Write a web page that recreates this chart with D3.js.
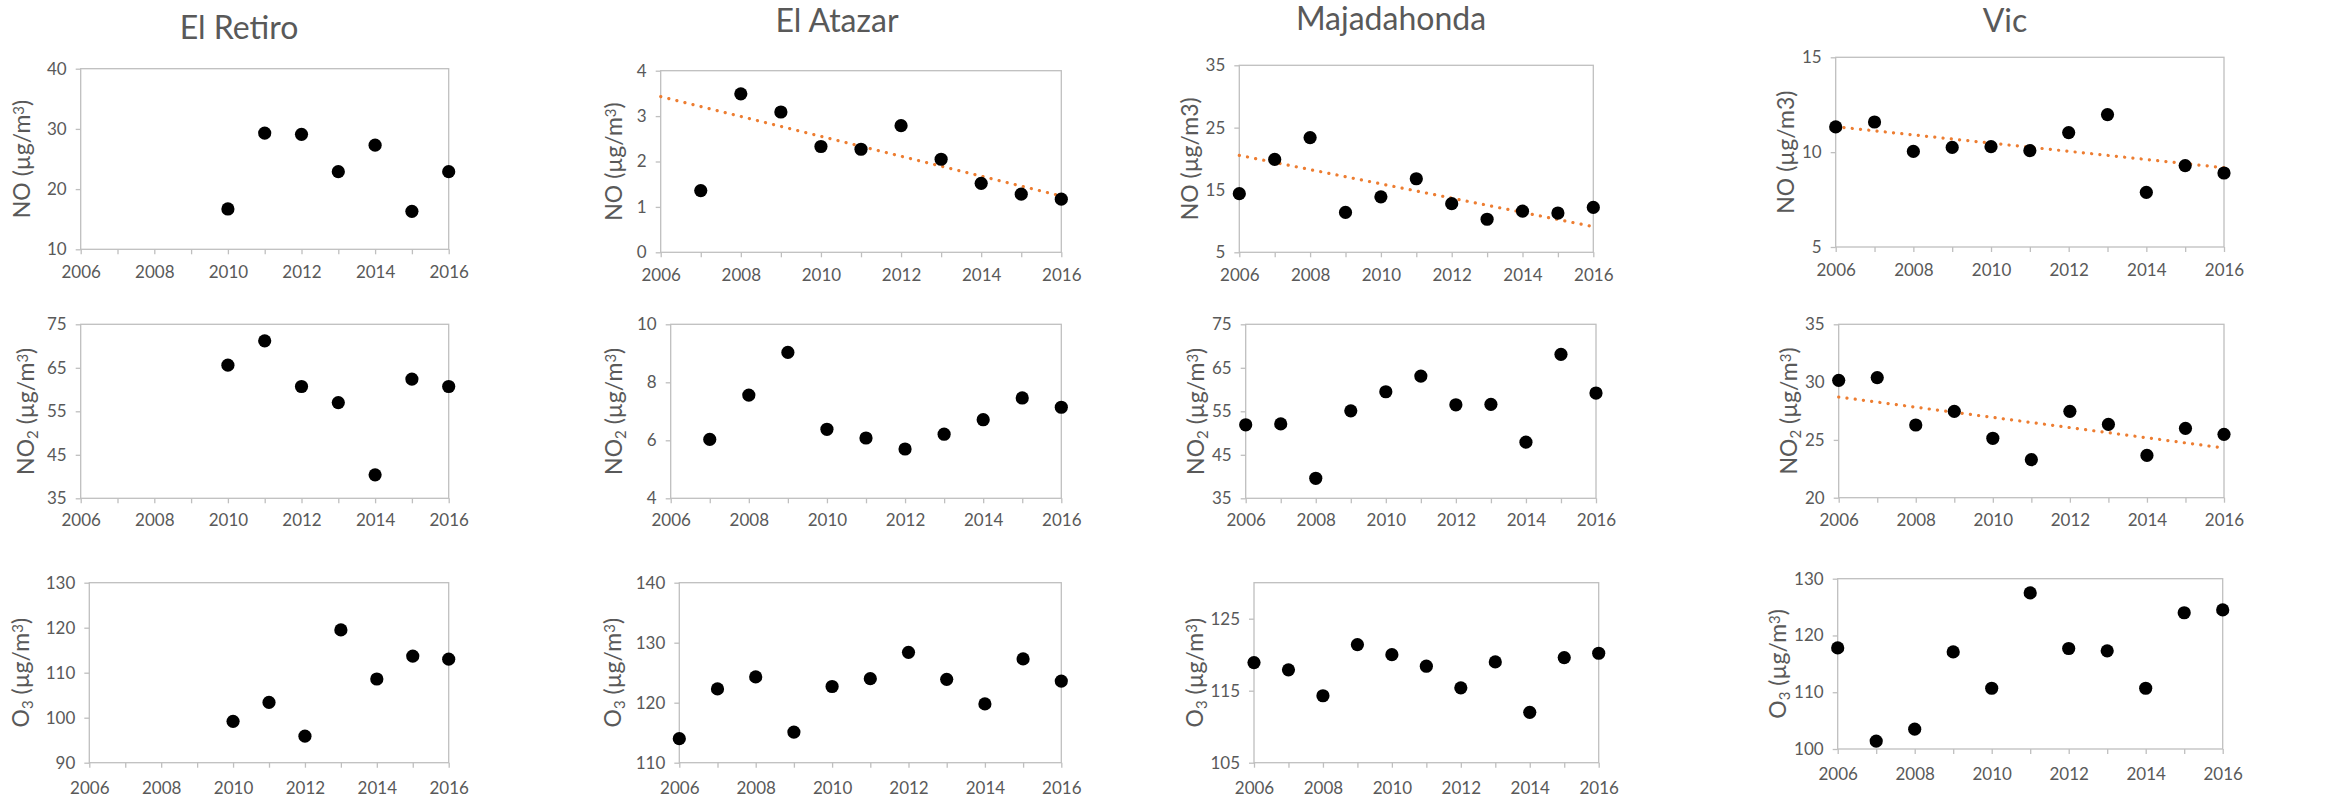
<!DOCTYPE html>
<html>
<head>
<meta charset="utf-8">
<script src="https://cdn.jsdelivr.net/npm/d3@7"></script>
<style>
  body { margin: 0; background: #fff; }
  svg text { font-family: Lato, "Open Sans", sans-serif; fill: #595959; }
</style>
</head>
<body>
<div id="root"></div>
<script>
// categories
var years = [2006, 2007, 2008, 2009, 2010, 2011, 2012, 2013, 2014, 2015, 2016];
var yearLabels = [2006, 2008, 2010, 2012, 2014, 2016];
var stations = ["El Retiro", "El Atazar", "Majadahonda", "Vic"];

// series values (null = no measurement)
var retiroNO  = [null, null, null, null, 16.7, 29.3, 29.1, 22.9, 27.3, 16.3, 22.9];
var retiroNO2 = [null, null, null, null, 65.6, 71.2, 60.7, 57.0, 40.4, 62.4, 60.7];
var retiroO3  = [null, null, null, null, 99.2, 103.4, 95.9, 119.5, 108.6, 113.7, 113.0];
var atazarNO  = [null, 1.36, 3.49, 3.09, 2.33, 2.27, 2.79, 2.05, 1.52, 1.28, 1.17];
var atazarNO2 = [null, 6.03, 7.56, 9.03, 6.38, 6.08, 5.70, 6.21, 6.71, 7.46, 7.14];
var atazarO3  = [114.0, 122.3, 124.3, 115.1, 122.7, 124.0, 128.4, 123.9, 119.8, 127.3, 123.6];
var majaNO    = [14.4, 19.9, 23.4, 11.4, 13.9, 16.8, 12.8, 10.3, 11.6, 11.3, 12.2];
var majaNO2   = [51.9, 52.1, 39.6, 55.1, 59.5, 63.1, 56.5, 56.6, 47.9, 68.1, 59.2];
var majaO3    = [118.9, 117.9, 114.3, 121.4, 120.0, 118.4, 115.4, 119.0, 112.0, 119.6, 120.2];
var vicNO     = [11.33, 11.59, 10.04, 10.25, 10.29, 10.08, 11.03, 11.98, 7.88, 9.29, 8.90];
var vicNO2    = [30.15, 30.39, 26.29, 27.47, 25.14, 23.29, 27.47, 26.35, 23.66, 26.0, 25.48];
var vicO3     = [117.8, 101.4, 103.5, 117.1, 110.7, 127.5, 117.7, 117.3, 110.7, 124.0, 124.5];

// linear trend lines (start / end value)
var trendYears    = [2006, 2016];
var atazarNOTrend = [3.43, 1.24];
var majaNOTrend   = [20.56, 9.12];
var vicNOTrend    = [11.34, 9.18];
var vicNO2Trend   = [28.71, 24.3];

// y axes per station
var noDomains  = [[10, 40], [0, 4], [5, 35], [5, 15]];
var noTicks    = [[10, 20, 30, 40], [0, 1, 2, 3, 4], [5, 15, 25, 35], [5, 10, 15]];
var no2Domains = [[35, 75], [4, 10], [35, 75], [20, 35]];
var no2Ticks   = [[35, 45, 55, 65, 75], [4, 6, 8, 10], [35, 45, 55, 65, 75], [20, 25, 30, 35]];
var o3Domains  = [[90, 130], [110, 140], [105, 130], [100, 130]];
var o3Ticks    = [[90, 100, 110, 120, 130], [110, 120, 130, 140], [105, 115, 125], [100, 110, 120, 130]];

// layout: plot boxes [left, top, right, bottom], y label centre x
var boxes = [
  [[80.7, 68.7, 448.7, 249.3], [660.7, 70.7, 1061.3, 252.3], [1239.3, 65.3, 1593.3, 252.3], [1835.7, 57.3, 2224, 247]],
  [[80.7, 324.3, 448.7, 498.3], [670.7, 324.3, 1061.3, 498.3], [1245.7, 324.3, 1596, 498.3], [1838.7, 324.3, 2224, 497.7]],
  [[89.3, 582.7, 448.7, 762.7], [679.3, 582.7, 1061.3, 762.7], [1254, 582.7, 1598.7, 762.7], [1837.7, 578.7, 2222.7, 749]]
];
var labelX = [[22, 614, 1190, 1786], [26, 614, 1196, 1789], [21, 613, 1195, 1778]];
var xLabelGap = [17, 16, 19];
var titlePos = [[239, 39], [837, 32], [1391, 30], [2005, 32]];

var rows = [
  {name: "NO", sub: "", series: [retiroNO, atazarNO, majaNO, vicNO], domains: noDomains, ticks: noTicks,
   trends: [null, atazarNOTrend, majaNOTrend, vicNOTrend], plainUnit: [false, false, true, true]},
  {name: "NO", sub: "2", series: [retiroNO2, atazarNO2, majaNO2, vicNO2], domains: no2Domains, ticks: no2Ticks,
   trends: [null, null, null, vicNO2Trend], plainUnit: [false, false, false, false]},
  {name: "O", sub: "3", series: [retiroO3, atazarO3, majaO3, vicO3], domains: o3Domains, ticks: o3Ticks,
   trends: [null, null, null, null], plainUnit: [false, false, false, false]}
];

var svg = d3.select("#root")
    .append("svg")
    .attr("width", 2341)
    .attr("height", 796);

// station titles
svg.selectAll("text.title")
    .data(stations)
    .enter()
    .append("text")
    .attr("class", "title")
    .attr("x", function (d, i) { return titlePos[i][0]; })
    .attr("y", function (d, i) { return titlePos[i][1]; })
    .attr("text-anchor", "middle")
    .style("font-size", "32px")
    .text(function (d) { return d; });

function styleAxis(a) {
  a.select(".domain").remove();
  a.selectAll(".tick line").attr("stroke", "#bfbfbf").attr("stroke-width", 1.3);
  a.selectAll(".tick text")
    .style("font-size", "17px")
    .style("font-family", "Lato, 'Open Sans', sans-serif")
    .attr("fill", "#595959");
}

function drawPanel(r, c) {
  var row = rows[r];
  var b = boxes[r][c];
  var x = d3.scaleLinear().domain([2006, 2016]).range([b[0], b[2]]);
  var y = d3.scaleLinear().domain(row.domains[c]).range([b[3], b[1]]);
  var g = svg.append("g");

  g.append("rect")
    .attr("x", b[0]).attr("y", b[1])
    .attr("width", b[2] - b[0]).attr("height", b[3] - b[1])
    .attr("fill", "none")
    .attr("stroke", "#bfbfbf")
    .attr("stroke-width", 1.3);

  // yearly tick marks, labels every two years
  var xTicks = g.append("g")
    .attr("transform", "translate(0," + b[3] + ")")
    .call(d3.axisBottom(x).tickValues(years).tickSize(5).tickFormat(""));
  styleAxis(xTicks);
  xTicks.selectAll(".tick text").remove();

  var xLabels = g.append("g")
    .attr("transform", "translate(0," + b[3] + ")")
    .call(d3.axisBottom(x)
      .tickValues(yearLabels)
      .tickSize(0)
      .tickPadding(xLabelGap[r])
      .tickFormat(function (d) { return String(d); }));
  styleAxis(xLabels);

  var yAxis = g.append("g")
    .attr("transform", "translate(" + b[0] + ",0)")
    .call(d3.axisLeft(y)
      .tickValues(row.ticks[c])
      .tickSize(5)
      .tickPadding(9)
      .tickFormat(function (d) { return String(d); }));
  styleAxis(yAxis);

  // trend line
  var t = row.trends[c];
  if (t) {
    g.append("line")
      .attr("x1", x(trendYears[0])).attr("y1", y(t[0]))
      .attr("x2", x(trendYears[1])).attr("y2", y(t[1]))
      .attr("stroke", "#ed7d31")
      .attr("stroke-width", 3.2)
      .attr("stroke-linecap", "round")
      .attr("stroke-dasharray", "0.1 8.2");
  }

  // points
  var pts = years.map(function (yr, i) { return {year: yr, v: row.series[c][i]}; })
    .filter(function (d) { return d.v !== null; });
  g.selectAll("circle")
    .data(pts)
    .enter()
    .append("circle")
    .attr("cx", function (d) { return x(d.year); })
    .attr("cy", function (d) { return y(d.v); })
    .attr("r", 6.6)
    .attr("fill", "#000");

  // y label
  var lab = g.append("text")
    .attr("transform", "translate(" + labelX[r][c] + "," + ((b[1] + b[3]) / 2) + ") rotate(-90)")
    .attr("text-anchor", "middle")
    .attr("dy", "0.35em")
    .style("font-size", "23px");
  lab.append("tspan").text(row.name);
  if (row.sub) {
    lab.append("tspan").attr("baseline-shift", "-25%").style("font-size", "15px").text(row.sub);
  }
  lab.append("tspan").text(" (\u00b5g/m");
  if (row.plainUnit[c]) {
    lab.append("tspan").text("3");
  } else {
    lab.append("tspan").attr("baseline-shift", "40%").style("font-size", "15px").text("3");
  }
  lab.append("tspan").text(")");
}

for (var r = 0; r < rows.length; r++) {
  for (var c = 0; c < stations.length; c++) {
    drawPanel(r, c);
  }
}
</script>
</body>
</html>
